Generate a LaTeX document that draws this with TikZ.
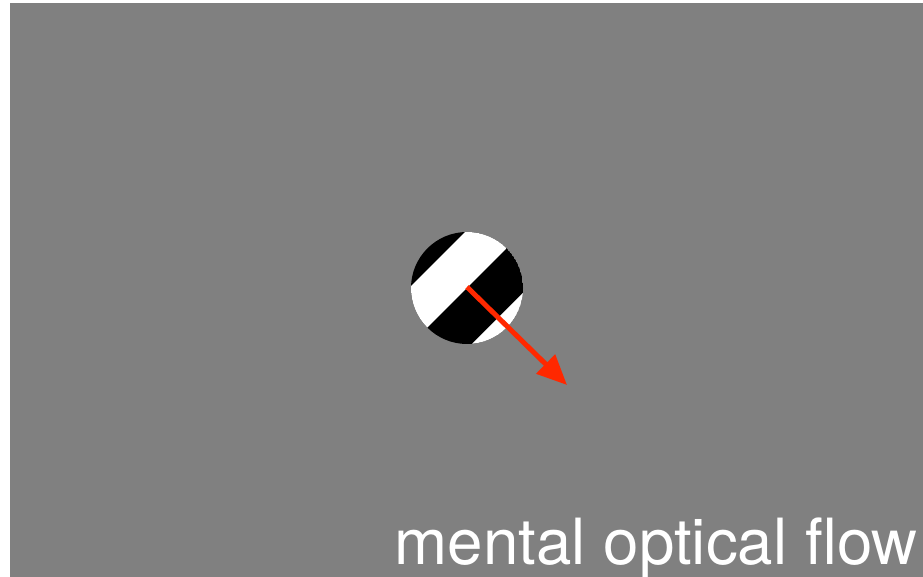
\documentclass[tikz,border=0pt]{standalone}
\usepackage{fontspec}
\setmainfont{TeX Gyre Heros}
\usetikzlibrary{arrows.meta}
\definecolor{bg}{RGB}{128,128,128}
\definecolor{arr}{RGB}{255,40,0}
\begin{document}
\begin{tikzpicture}[x=1pt,y=1pt,
  lbl/.style={text=white,font=\fontsize{63.7}{64}\selectfont,inner sep=0pt},
  flow/.style={draw=arr,line width=5pt,-{Triangle[length=30pt,width=26pt]}}]
\useasboundingbox (0,0) rectangle (923,577);
\fill[white] (0,0) rectangle (923,577);
\fill[bg] (10,0) rectangle (923,574);
\coordinate (c) at (467,289);
\begin{scope}
  \clip (c) circle (56);
  \fill[black] (c) circle (56);
  \begin{scope}[shift={(c)},rotate=-45]
    \fill[white] (-41,-70) rectangle (0,70);
    \fill[white] (43,-70) rectangle (90,70);
  \end{scope}
\end{scope}
\coordinate (tip) at (567,192);
\draw[flow] (467,290) -- (tip);
\node[lbl,anchor=base east] (t) at (918,12) {mental optical flow};
\end{tikzpicture}
\end{document}
